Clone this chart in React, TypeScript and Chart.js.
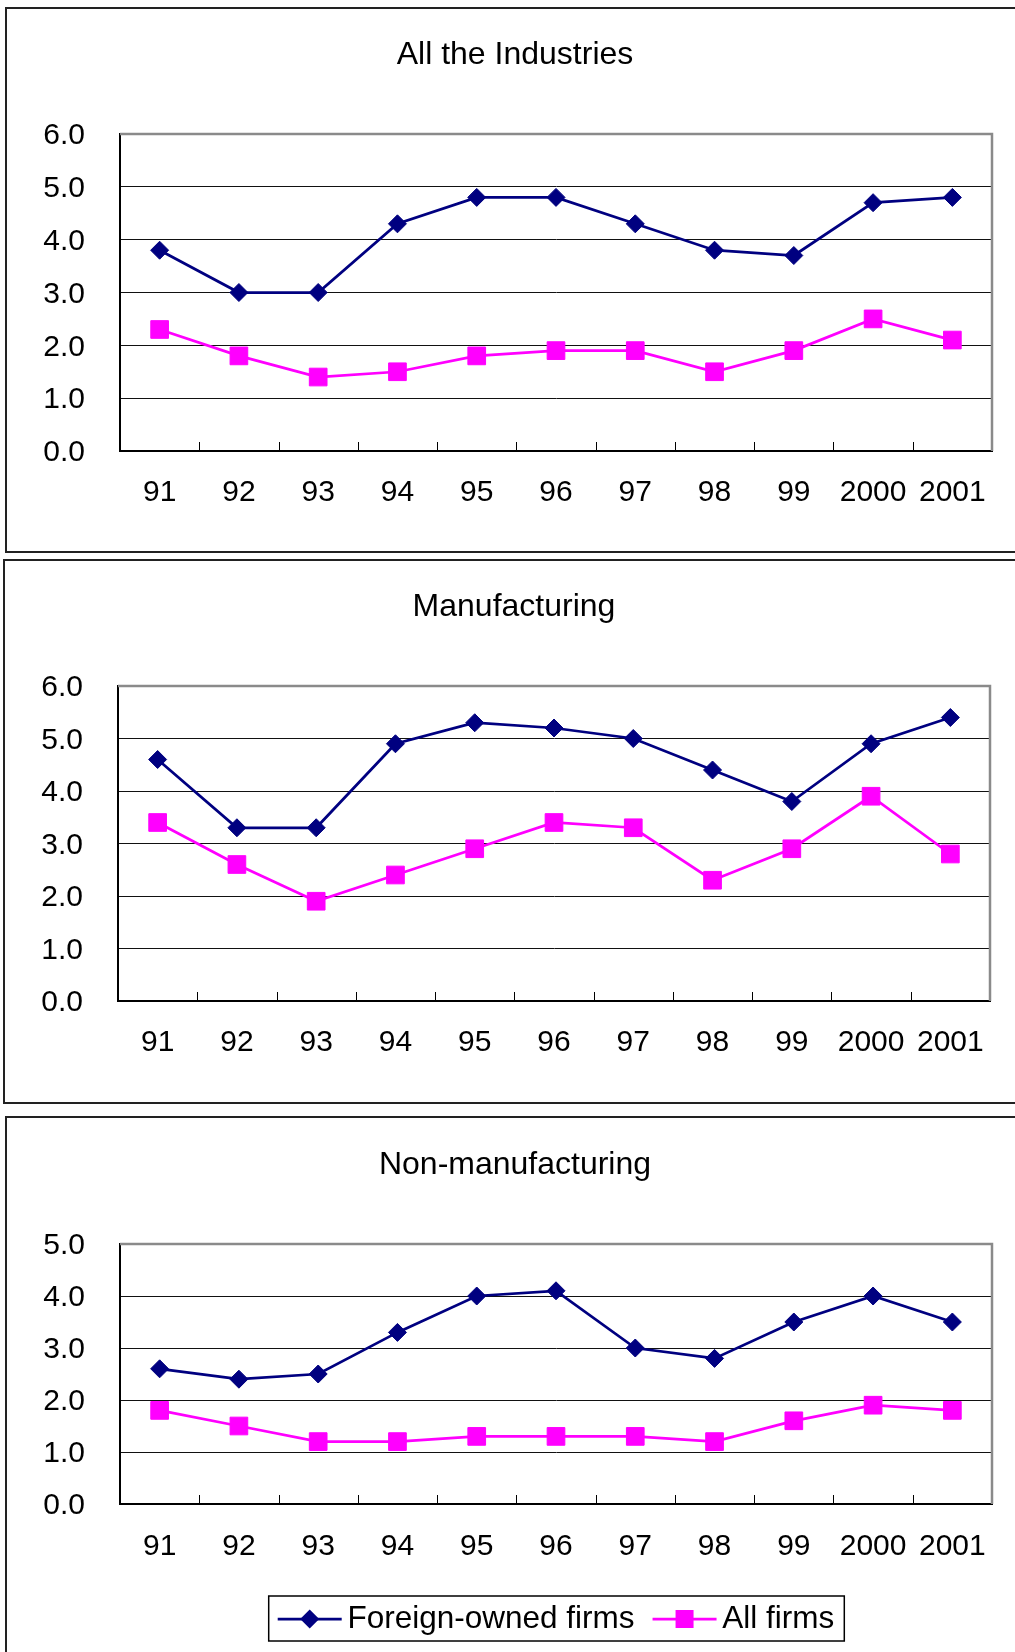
import React, { useEffect, useRef } from 'react';
import { Chart, registerables } from 'chart.js';

Chart.register(...registerables);

const years = ['91', '92', '93', '94', '95', '96', '97', '98', '99', '2000', '2001'];
const seriesNames = ['Foreign-owned firms', 'All firms'];

const allForeign = [3.8, 3.0, 3.0, 4.3, 4.8, 4.8, 4.3, 3.8, 3.7, 4.7, 4.8];
const allFirms = [2.3, 1.8, 1.4, 1.5, 1.8, 1.9, 1.9, 1.5, 1.9, 2.5, 2.1];

const mfgForeign = [4.6, 3.3, 3.3, 4.9, 5.3, 5.2, 5.0, 4.4, 3.8, 4.9, 5.4];
const mfgFirms = [3.4, 2.6, 1.9, 2.4, 2.9, 3.4, 3.3, 2.3, 2.9, 3.9, 2.8];

const nonForeign = [2.6, 2.4, 2.5, 3.3, 4.0, 4.1, 3.0, 2.8, 3.5, 4.0, 3.5];
const nonFirms = [1.8, 1.5, 1.2, 1.2, 1.3, 1.3, 1.3, 1.2, 1.6, 1.9, 1.8];

const titles = ['All the Industries', 'Manufacturing', 'Non-manufacturing'];
const yMaxes = [6, 6, 5];

const NAVY = '#000080';
const MAGENTA = '#FF00FF';
const FONT = "'Liberation Sans', Arial, Helvetica, sans-serif";

const framePlugin = {
  id: 'frameTicks',
  beforeDatasetsDraw(chart: any) {
    const { ctx, chartArea } = chart;
    const xs = chart.scales.x;
    ctx.save();
    ctx.strokeStyle = '#000';
    ctx.lineWidth = 1;
    ctx.beginPath();
    for (let i = 1; i < years.length; i++) {
      const px = Math.round((xs.getPixelForValue(i - 1) + xs.getPixelForValue(i)) / 2) + 0.5;
      ctx.moveTo(px, chartArea.bottom);
      ctx.lineTo(px, chartArea.bottom - 9);
    }
    ctx.stroke();
    ctx.strokeStyle = '#8a8a8a';
    ctx.lineWidth = 2.5;
    ctx.beginPath();
    ctx.moveTo(chartArea.left, chartArea.top);
    ctx.lineTo(chartArea.right, chartArea.top);
    ctx.lineTo(chartArea.right, chartArea.bottom);
    ctx.stroke();
    ctx.restore();
  },
};

const legendPlugin = {
  id: 'legendSymbols',
  afterDraw(chart: any) {
    const lg = chart.legend;
    if (!lg || !lg.options.display || !lg.legendHitBoxes || !lg.legendHitBoxes.length) return;
    const { ctx } = chart;
    const hbs = lg.legendHitBoxes;
    ctx.save();
    hbs.forEach((hb: any, i: number) => {
      const ds = chart.data.datasets[i];
      const cy = hb.top + hb.height / 2;
      const x0 = hb.left;
      const x1 = hb.left + 64;
      const cx = (x0 + x1) / 2;
      ctx.strokeStyle = ds.borderColor;
      ctx.lineWidth = 2.75;
      ctx.beginPath();
      ctx.moveTo(x0, cy);
      ctx.lineTo(x1, cy);
      ctx.stroke();
      ctx.fillStyle = ds.borderColor;
      ctx.beginPath();
      if (ds.pointStyle === 'rectRot') {
        const r = 9.5;
        ctx.moveTo(cx - r, cy);
        ctx.lineTo(cx, cy - r);
        ctx.lineTo(cx + r, cy);
        ctx.lineTo(cx, cy + r);
        ctx.closePath();
      } else {
        const h = 9;
        ctx.rect(cx - h, cy - h, 2 * h, 2 * h);
      }
      ctx.fill();
    });
    const first = hbs[0];
    const last = hbs[hbs.length - 1];
    const left = first.left - 9;
    const right = last.left + last.width + 10;
    const top = first.top - 7;
    const bottom = first.top + first.height + 6;
    ctx.strokeStyle = '#000';
    ctx.lineWidth = 1.5;
    ctx.strokeRect(left, top, right - left, bottom - top);
    ctx.restore();
  },
};

type PanelCfg = {
  title: string;
  foreign: number[];
  firms: number[];
  yMax: number;
  boxLeft: number;
  boxTop: number;
  boxHeight: number;
  canvasTop: number;
  canvasHeight: number;
  yAxisWidth: number;
  padRight: number;
  titlePadTop: number;
  titlePadBottom: number;
  xAxisHeight: number;
  xLabelPad: number;
  legend: boolean;
  padBottom: number;
};

const CANVAS_W = 1030;

function Panel({ cfg }: { cfg: PanelCfg }) {
  const ref = useRef<HTMLCanvasElement>(null);
  useEffect(() => {
    const chart = new Chart(ref.current as HTMLCanvasElement, {
      type: 'line',
      data: {
        labels: years,
        datasets: [
          {
            label: seriesNames[0],
            data: cfg.foreign,
            borderColor: NAVY,
            backgroundColor: NAVY,
            borderWidth: 2.75,
            pointStyle: 'rectRot',
            pointRadius: 9,
            pointBorderWidth: 1,
            pointBackgroundColor: NAVY,
            pointBorderColor: NAVY,
            tension: 0,
          },
          {
            label: seriesNames[1],
            data: cfg.firms,
            borderColor: MAGENTA,
            backgroundColor: MAGENTA,
            borderWidth: 2.75,
            pointStyle: 'rect',
            pointRadius: 12.5,
            pointBorderWidth: 1,
            pointBackgroundColor: MAGENTA,
            pointBorderColor: MAGENTA,
            tension: 0,
          },
        ],
      },
      options: {
        responsive: false,
        animation: false,
        events: [],
        layout: { padding: { left: 0, right: cfg.padRight, top: 0, bottom: cfg.padBottom } },
        plugins: {
          tooltip: { enabled: false },
          title: {
            display: true,
            text: cfg.title,
            color: '#000',
            font: { family: FONT, size: 32, weight: 'normal', lineHeight: 1.2 },
            padding: { top: cfg.titlePadTop, bottom: cfg.titlePadBottom },
          },
          legend: {
            display: cfg.legend,
            position: 'bottom',
            fullSize: false,
            labels: {
              color: '#000',
              font: { family: FONT, size: 31.5 },
              boxWidth: 54,
              boxHeight: 32,
              padding: 18,
              generateLabels: (chart: any) =>
                chart.data.datasets.map((ds: any, i: number) => ({
                  text: ds.label,
                  fillStyle: 'rgba(0,0,0,0)',
                  strokeStyle: 'rgba(0,0,0,0)',
                  lineWidth: 0,
                  hidden: false,
                  datasetIndex: i,
                  fontColor: '#000',
                })),
            },
          },
        },
        scales: {
          x: {
            type: 'category',
            offset: true,
            grid: { offset: true, drawOnChartArea: false, drawTicks: false },
            border: { color: '#000', width: 2 },
            ticks: {
              color: '#000',
              font: { family: FONT, size: 30 },
              padding: cfg.xLabelPad,
              autoSkip: false,
              maxRotation: 0,
              minRotation: 0,
            },
            afterFit: (s: any) => {
              s.height = cfg.xAxisHeight;
            },
          },
          y: {
            min: 0,
            max: cfg.yMax,
            grid: { color: '#111', lineWidth: 1, drawTicks: false },
            border: { color: '#000', width: 2 },
            ticks: {
              stepSize: 1,
              color: '#000',
              font: { family: FONT, size: 30 },
              padding: 35,
              labelOffset: 2,
              callback: (v: any) => Number(v).toFixed(1),
            },
            afterFit: (s: any) => {
              s.width = cfg.yAxisWidth;
            },
          },
          yRightSpace: {
            type: 'linear',
            position: 'right',
            display: true,
            grid: { drawOnChartArea: false, drawTicks: false },
            border: { display: false },
            ticks: { display: false },
            afterFit: (s: any) => {
              s.width = 38;
            },
          },
        },
      },
      plugins: [framePlugin, legendPlugin],
    } as any);
    return () => chart.destroy();
  }, []);
  return (
    <>
      <div
        style={{
          position: 'absolute',
          left: cfg.boxLeft,
          top: cfg.boxTop,
          width: 1100,
          height: cfg.boxHeight,
          border: '2px solid #222',
          boxSizing: 'border-box',
        }}
      />
      <canvas
        ref={ref}
        width={CANVAS_W}
        height={cfg.canvasHeight}
        style={{ position: 'absolute', left: 0, top: cfg.canvasTop, width: CANVAS_W, height: cfg.canvasHeight }}
      />
    </>
  );
}

const panels: PanelCfg[] = [
  {
    title: titles[0], foreign: allForeign, firms: allFirms, yMax: yMaxes[0],
    boxLeft: 5, boxTop: 7, boxHeight: 546, canvasTop: 9, canvasHeight: 541,
    yAxisWidth: 120, padRight: 0, titlePadTop: 27, titlePadBottom: 59.6,
    xAxisHeight: 99, xLabelPad: 24, legend: false, padBottom: 0,
  },
  {
    title: titles[1], foreign: mfgForeign, firms: mfgFirms, yMax: yMaxes[1],
    boxLeft: 3, boxTop: 559, boxHeight: 545, canvasTop: 561, canvasHeight: 541,
    yAxisWidth: 118, padRight: 2, titlePadTop: 27, titlePadBottom: 59.6,
    xAxisHeight: 101, xLabelPad: 24, legend: false, padBottom: 0,
  },
  {
    title: titles[2], foreign: nonForeign, firms: nonFirms, yMax: yMaxes[2],
    boxLeft: 5, boxTop: 1116, boxHeight: 600, canvasTop: 1118, canvasHeight: 534,
    yAxisWidth: 120, padRight: 0, titlePadTop: 28, titlePadBottom: 59.6,
    xAxisHeight: 81, xLabelPad: 25, legend: true, padBottom: 7,
  },
];

export default function App() {
  return (
    <div
      style={{
        position: 'absolute',
        left: 0,
        top: 0,
        width: 1015,
        height: 1652,
        overflow: 'hidden',
        background: '#fff',
      }}
    >
      {panels.map((p, i) => (
        <Panel key={i} cfg={p} />
      ))}
    </div>
  );
}
